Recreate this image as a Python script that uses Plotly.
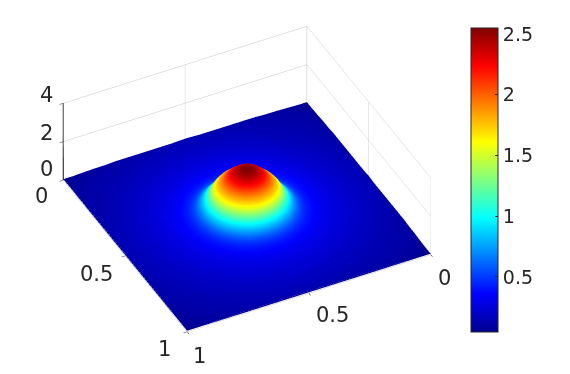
import numpy as np
import plotly.graph_objects as go

# Rotationally symmetric dome: ring radius and height
ring_radius = [0, .02, .04, .06, .08, .095, .11, .125, .14, .155, .17, .185, .2, .22, .25, .28, .32, .37, .43, .5, .58, .65, .71]
ring_height = [2.55, 2.52, 2.42, 2.27, 2.06, 1.88, 1.72, 1.5, 1.2, .95, .76, .6, .5, .42, .36, .31, .27, .23, .19, .15, .12, .09, .05]
angles_deg = list(range(0, 361, 5))
centre = [0.5, 0.5]

axis_ticks = [0, 0.5, 1]
z_ticks = [0, 2, 4]
bar_ticks = [0.5, 1, 1.5, 2, 2.5]
bar_range = [0.047, 2.55]

jet = [[0, "rgb(0,0,143)"], [0.125, "rgb(0,0,255)"], [0.375, "rgb(0,255,255)"],
       [0.625, "rgb(255,255,0)"], [0.875, "rgb(255,0,0)"], [1, "rgb(128,0,0)"]]

r = np.array(ring_radius)[:, None]
t = np.deg2rad(angles_deg)[None, :]
X = np.clip(centre[0] + r * np.cos(t), 0, 1)
Y = np.clip(centre[1] + r * np.sin(t), 0, 1)
Z = np.repeat(np.array(ring_height)[:, None], len(angles_deg), axis=1)

INK = "#262626"
BAR_FONT = dict(family="DejaVu Sans", size=19, color=INK)
AXIS_FONT = dict(family="DejaVu Sans", size=21, color=INK)

fig = go.Figure(go.Surface(
    x=X, y=Y, z=Z, surfacecolor=Z, colorscale=jet,
    cmin=bar_range[0], cmax=bar_range[1],
    lighting=dict(ambient=1, diffuse=0, specular=0, roughness=1, fresnel=0),
    hoverinfo="skip",
    colorbar=dict(
        x=471 / 570, xanchor="left", xref="paper", y=(374 - 332) / 374, yanchor="bottom", yref="paper",
        len=304 / 374, lenmode="fraction", thickness=27, thicknessmode="pixels",
        outlinecolor=INK, outlinewidth=1, borderwidth=0, xpad=0, ypad=0,
        tickmode="array", tickvals=bar_ticks, ticktext=[f"{v:g}" for v in bar_ticks],
        ticks="inside", ticklen=3, tickcolor=INK, tickfont=BAR_FONT,
    ),
))

ax = dict(
    range=[0, 1], tickmode="array", tickvals=axis_ticks, showticklabels=False,
    showgrid=True, gridcolor="#c4c4c4", gridwidth=1, showbackground=False, zeroline=False,
    showline=False, ticks="outside", ticklen=4, tickcolor=INK, tickwidth=1,
    title=dict(text=""), showspikes=False,
)
az = dict(ax, range=[0, 4], tickvals=z_ticks, showline=True, linecolor="#111111", linewidth=2)


def label(x, y, z, value, dx, dy):
    return dict(x=x, y=y, z=z, text=f"{value:g}", showarrow=False, font=AXIS_FONT,
                xanchor="center", yanchor="middle", xshift=dx, yshift=-dy)


notes = []
for v, (dx, dy) in zip(axis_ticks, [(14, 23), (24, 22), (12, 24)]):
    notes.append(label(v, 1, 0, v, dx, dy))
for v, (dx, dy) in zip(axis_ticks, [(-22, 16), (-29, 18), (-23, 17)]):
    notes.append(label(1, v, 0, v, dx, dy))
for v, (dx, dy) in zip(z_ticks, [(-17, -11), (-17, -9), (-17, -8)]):
    notes.append(label(1, 0, v, v, dx, dy))

el = np.deg2rad(38.5)
dist = 1.6
scale = 1.527
fig.update_layout(
    width=570, height=374, margin=dict(l=0, r=0, t=0, b=0),
    paper_bgcolor="white",
    scene=dict(
        domain=dict(x=[0, 494 / 570], y=[16 / 374, 1]),
        xaxis=ax, yaxis=ax, zaxis=az, annotations=notes,
        aspectmode="manual", aspectratio=dict(x=scale, y=scale, z=0.359 * scale),
        camera=dict(
            projection=dict(type="orthographic"),
            up=dict(x=0, y=0, z=1), center=dict(x=0, y=0, z=0),
            eye=dict(x=float(dist * np.cos(el) * 0.453), y=float(dist * np.cos(el) * 0.8915), z=float(dist * np.sin(el))),
        ),
    ),
)
fig.write_html("out.html", config=dict(displayModeBar=False),
               post_script="document.body.style.margin='0';document.body.style.overflow='hidden';")
